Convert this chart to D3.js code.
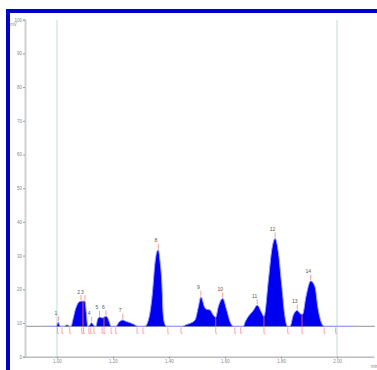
<!DOCTYPE html>
<html>
<head>
<meta charset="utf-8">
<script src="https://cdn.jsdelivr.net/npm/d3@7"></script>
<style>
  body { margin: 0; background: #fff; }
  svg text { font-family: "Liberation Sans", Arial, sans-serif; }
</style>
</head>
<body>
<div id="chart"></div>
<script>
// chromatogram trace (min, mV)
const sigTime = [0.957, 0.998, 1.002, 1.005, 1.008, 1.013, 1.027, 1.032, 1.039, 1.045,
  1.050, 1.057, 1.064, 1.071, 1.080, 1.089, 1.100, 1.105, 1.110, 1.116,
  1.124, 1.130, 1.136, 1.139, 1.145, 1.152, 1.163, 1.175, 1.182, 1.189,
  1.193, 1.211, 1.221, 1.235, 1.246, 1.261, 1.275, 1.289, 1.314, 1.325,
  1.332, 1.341, 1.350, 1.357, 1.362, 1.368, 1.374, 1.380, 1.386, 1.392,
  1.446, 1.461, 1.475, 1.493, 1.505, 1.514, 1.529, 1.539, 1.546, 1.558,
  1.567, 1.576, 1.592, 1.606, 1.618, 1.630, 1.665, 1.673, 1.683, 1.701,
  1.715, 1.731, 1.739, 1.755, 1.767, 1.779, 1.791, 1.803, 1.814, 1.823,
  1.832, 1.844, 1.858, 1.870, 1.877, 1.889, 1.906, 1.921, 1.933, 1.945,
  1.954, 2.064];
const sigValue = [9.0, 9.0, 10.0, 10.2, 9.6, 9.0, 9.0, 9.4, 9.4, 9.0,
  9.0, 11.0, 13.5, 15.2, 16.3, 16.5, 16.5, 13.0, 9.0, 9.3,
  10.1, 9.5, 9.0, 9.0, 11.0, 11.8, 11.5, 12.0, 11.4, 9.8,
  9.0, 9.0, 10.2, 10.9, 10.5, 10.1, 9.6, 9.0, 9.0, 10.5,
  13.0, 19.0, 27.8, 31.2, 31.7, 28.5, 22.8, 11.9, 9.5, 9.0,
  9.0, 9.5, 9.9, 10.9, 14.8, 17.8, 14.4, 14.0, 13.9, 12.4,
  11.7, 14.8, 17.3, 13.9, 10.4, 9.0, 9.0, 10.5, 11.9, 13.7,
  15.3, 13.1, 11.9, 22.8, 31.7, 35.1, 30.7, 20.8, 11.9, 9.0,
  9.0, 12.4, 13.7, 12.7, 12.6, 17.8, 22.5, 20.8, 13.9, 9.9,
  9.0, 9.0];

const baseValue = 9.0;

const peakNames = ["1", "2", "3", "4", "5", "6", "7", "8", "9", "10", "11", "12", "13", "14"];
const peakTimes = [1.005, 1.086, 1.100, 1.124, 1.152, 1.175, 1.235, 1.362, 1.514, 1.592, 1.715, 1.779, 1.858, 1.906];
const peakHeights = [10.2, 16.5, 16.5, 10.1, 11.8, 12.0, 10.9, 31.7, 17.8, 17.3, 15.3, 35.1, 13.7, 22.5];

// integration marks under the baseline
const markTimes = [1.002, 1.018, 1.046, 1.089, 1.095, 1.114, 1.121, 1.132, 1.161, 1.168, 1.193, 1.210,
  1.286, 1.307, 1.396, 1.443, 1.567, 1.635, 1.656, 1.739, 1.824, 1.875, 1.954, 1.995];
// drop lines between merged peaks
const dropTimes = [1.093, 1.168, 1.567, 1.739, 1.875];

const yTicks = [0, 10, 20, 30, 40, 50, 60, 70, 80, 90, 100];
const xTicks = [1.0, 1.2, 1.4, 1.6, 1.8, 2.0];
const windowTimes = [1.0, 2.0];

const width = 377, height = 370;

const svg = d3.select("#chart").append("svg")
  .attr("width", width)
  .attr("height", height);

// blue frame
svg.append("rect").attr("x", 6).attr("y", 9).attr("width", width - 6).attr("height", 4).attr("fill", "#0000cc");
svg.append("rect").attr("x", 6).attr("y", 9).attr("width", 4).attr("height", height - 9).attr("fill", "#0000cc");

const x = d3.scaleLinear().domain([0.886, 2.132]).range([25, 374]);
const y = d3.scaleLinear().domain([0, 100]).range([356.7, 19.7]);

const sig = sigTime.map((t, i) => ({t: t, v: sigValue[i]}));

// window lines
svg.append("g")
  .selectAll("line")
  .data(windowTimes)
  .join("line")
  .attr("x1", d => x(d)).attr("x2", d => x(d))
  .attr("y1", y(100)).attr("y2", y(0))
  .attr("stroke", "#d4e8e6")
  .attr("stroke-width", 1.5);

// gray baseline across the plot
svg.append("line")
  .attr("x1", 25).attr("x2", 375)
  .attr("y1", y(baseValue)).attr("y2", y(baseValue))
  .attr("stroke", "#a8a8a8")
  .attr("stroke-width", 1.2);

// filled peaks
const area = d3.area()
  .x(d => x(d.t))
  .y0(y(baseValue))
  .y1(d => y(d.v))
  .curve(d3.curveMonotoneX);

svg.append("path")
  .datum(sig)
  .attr("d", area)
  .attr("fill", "#0000f0");

const line = d3.line()
  .x(d => x(d.t))
  .y(d => y(d.v))
  .curve(d3.curveMonotoneX);

svg.append("path")
  .datum(sig)
  .attr("d", line)
  .attr("fill", "none")
  .attr("stroke", "#9aa0ff")
  .attr("stroke-width", 1);

// drop lines
const interp = t => {
  const i = d3.bisector(d => d.t).left(sig, t);
  if (i <= 0) return sig[0].v;
  const a = sig[i - 1], b = sig[i];
  return a.v + (b.v - a.v) * (t - a.t) / (b.t - a.t);
};

svg.append("g")
  .selectAll("line")
  .data(dropTimes)
  .join("line")
  .attr("x1", d => x(d)).attr("x2", d => x(d))
  .attr("y1", y(baseValue)).attr("y2", d => y(interp(d)))
  .attr("stroke", "#e8506a")
  .attr("stroke-width", 1);

// marks under the baseline
const marks = svg.append("g").attr("stroke", "#ff8f8f").attr("stroke-width", 0.8).attr("fill", "none");
marks.selectAll("path")
  .data(markTimes)
  .join("path")
  .attr("d", d => `M${x(d)},${y(baseValue) + 1}V${y(baseValue) + 7}h1.5`);

// apex ticks
svg.append("g")
  .selectAll("line")
  .data(peakTimes)
  .join("line")
  .attr("x1", d => x(d)).attr("x2", d => x(d))
  .attr("y1", (d, i) => y(peakHeights[i]) - 1)
  .attr("y2", (d, i) => y(peakHeights[i]) - 6)
  .attr("stroke", "#ff9a9a")
  .attr("stroke-width", 1);

// peak labels
svg.append("g")
  .selectAll("text")
  .data(peakNames)
  .join("text")
  .attr("x", (d, i) => x(peakTimes[i]) - 2.5)
  .attr("y", (d, i) => y(peakHeights[i]) - 7.5)
  .attr("text-anchor", "middle")
  .attr("font-size", 5)
  .attr("fill", "#555")
  .text(d => d);

// axes
const yAxis = svg.append("g")
  .attr("transform", "translate(25,0)")
  .call(d3.axisLeft(y).tickValues(yTicks).tickSize(2).tickFormat(d3.format("d")));
yAxis.select(".domain").attr("stroke", "#d0d0d0").attr("stroke-width", 2);
yAxis.selectAll(".tick line").attr("stroke", "#999");
yAxis.selectAll(".tick text").attr("font-size", 4.5).attr("fill", "#888").attr("x", -3);

const xAxis = svg.append("g")
  .attr("transform", `translate(0,${y(0)})`)
  .call(d3.axisBottom(x).tickValues(xTicks).tickSize(2).tickFormat(d3.format(".2f")).tickSizeOuter(0));
xAxis.select(".domain").attr("stroke", "#bbbbbb").attr("stroke-width", 1.5);
xAxis.selectAll(".tick line").attr("stroke", "#999");
xAxis.selectAll(".tick text").attr("font-size", 4.5).attr("fill", "#888").attr("y", 3);

svg.append("text").attr("x", 10).attr("y", 26).attr("font-size", 4.5).attr("fill", "#888").text("mV");
svg.append("text").attr("x", 371).attr("y", 368).attr("font-size", 4.5).attr("fill", "#888").text("min");
</script>
</body>
</html>
